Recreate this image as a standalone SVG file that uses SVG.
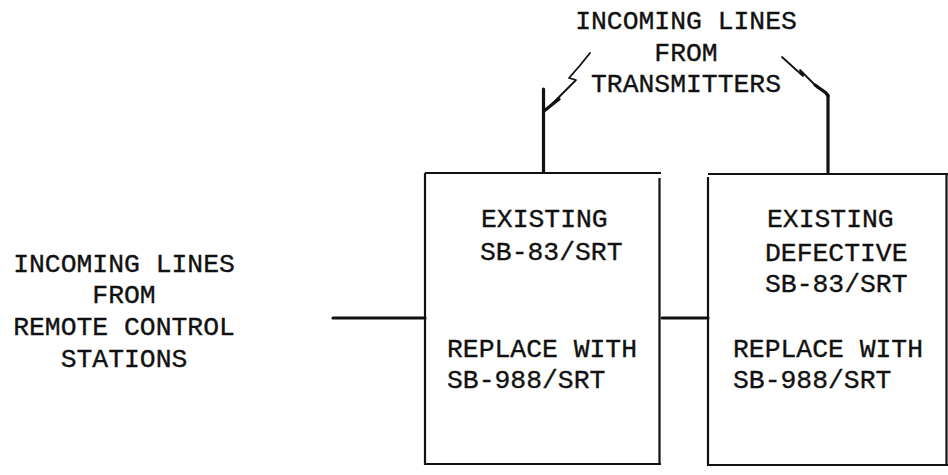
<svg xmlns="http://www.w3.org/2000/svg" width="948" height="475" viewBox="0 0 948 475">
<style>
text{font-family:"Liberation Mono","Courier New",monospace;font-size:26.4px;fill:#111;stroke:#111;stroke-width:0.35}
.box{fill:none;stroke:#111;stroke-width:2.2}
.wire{fill:none;stroke:#111;stroke-width:3.2;stroke-linecap:round}
.bolt{fill:none;stroke:#111;stroke-width:1.8;stroke-linejoin:round;stroke-linecap:round}
.c{text-anchor:middle}
</style>
<rect width="948" height="475" fill="#fff"/>
<g id="label-remote">
<text class="c" x="124" y="272">INCOMING LINES</text>
<text class="c" x="124" y="303">FROM</text>
<text class="c" x="124" y="335">REMOTE CONTROL</text>
<text class="c" x="124" y="367">STATIONS</text>
</g>
<g id="label-transmitters">
<text class="c" x="686" y="29">INCOMING LINES</text>
<text class="c" x="686" y="61">FROM</text>
<text class="c" x="686" y="92">TRANSMITTERS</text>
</g>
<g id="box1">
<path class="box" d="M425,173 H661 M425,173 V464 H661 M659.5,178 V464"/>
<text x="481" y="227">EXISTING</text>
<text x="480" y="260">SB-83/SRT</text>
<text x="447" y="357">REPLACE WITH</text>
<text x="447" y="388">SB-988/SRT</text>
</g>
<g id="box2">
<path class="box" d="M708,174 H948 M708,177 V465 H948 M946.5,174 V465"/>
<text x="767" y="227">EXISTING</text>
<text x="765" y="261">DEFECTIVE</text>
<text x="765" y="292">SB-83/SRT</text>
<text x="733" y="357">REPLACE WITH</text>
<text x="733" y="388">SB-988/SRT</text>
</g>
<g id="connectors">
<path class="wire" d="M333,318 H425"/>
<path class="wire" d="M662,318 H708"/>
<path class="wire" d="M543.5,89 V172"/>
<path class="bolt" d="M590,53 Q580,66 569,78 L576,80 L552,104"/>
<path class="wire" d="M559,99 L544,111"/>
<path class="wire" d="M828,95 V172"/>
<path class="bolt" d="M782,57 L803,76 L800,70 L818,88"/>
<path class="wire" d="M815,85 L826,93 L828,96"/>
</g>
</svg>
